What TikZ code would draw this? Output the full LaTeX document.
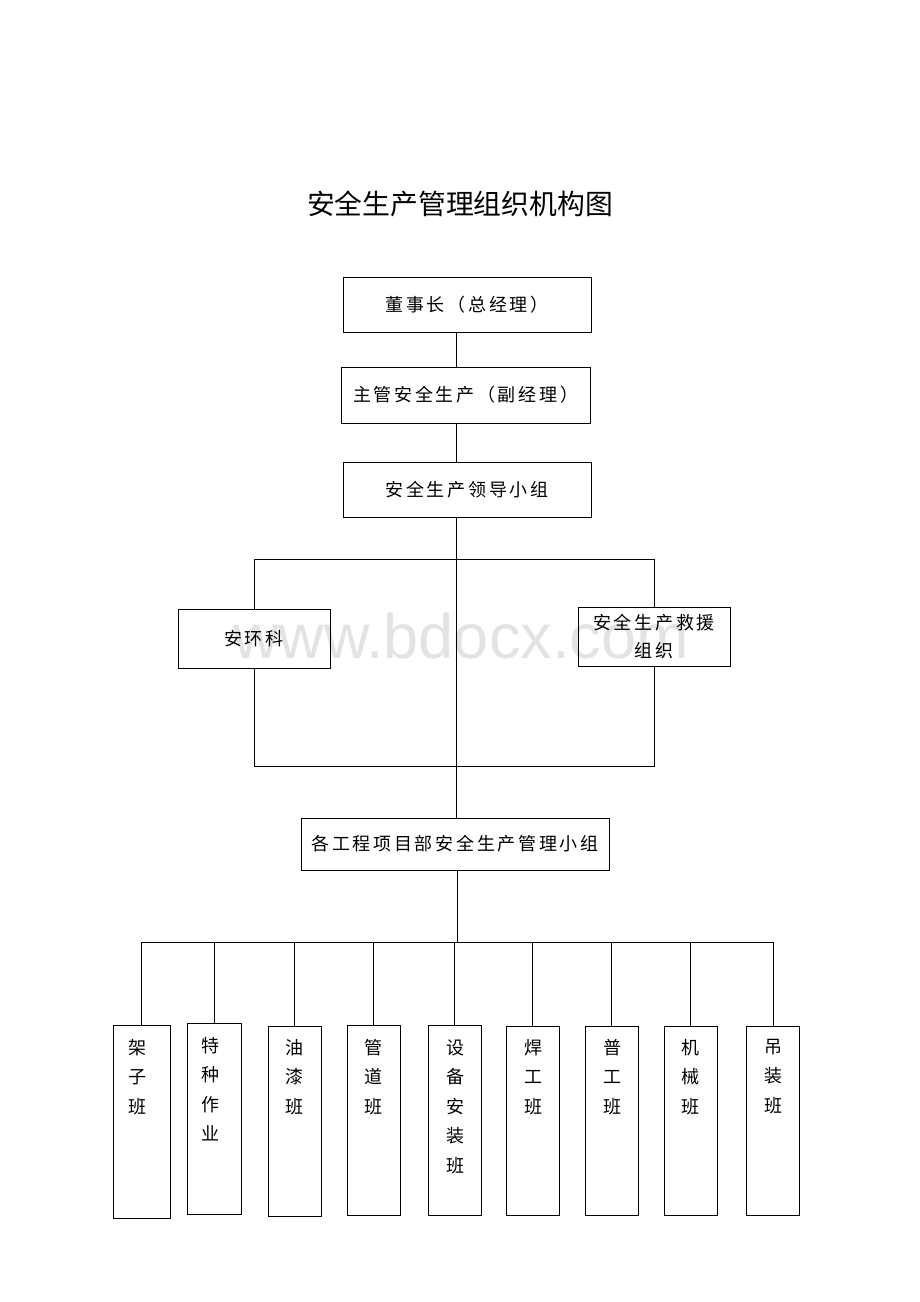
\documentclass[tikz,border=0pt]{standalone}
\usepackage{fontspec}
\newfontfamily\cjk[LetterSpace=15]{Noto Sans CJK SC}
\newfontfamily\cjktitle{Noto Sans CJK SC}
\setsansfont{Liberation Sans}
\begin{document}
\begin{tikzpicture}[x=1pt,y=-1pt,
  box/.style={draw,line width=0.9pt,inner sep=0pt,font=\fontsize{18}{28}\selectfont\cjk,align=center},
  vbox/.style={draw,line width=0.9pt,inner sep=0pt,minimum width=53pt,minimum height=190pt},
  vtext/.style={inner sep=0pt,anchor=north,align=center,font=\fontsize{18}{29.5}\selectfont\cjktitle},
  conn/.style={line width=0.9pt}]
\useasboundingbox (0,0) rectangle (920,1302);
\node[text=black!11,font=\fontsize{63}{63}\selectfont\sffamily] (wm) at (461,636) {www.bdocx.com};
\node[font=\fontsize{27.8}{28}\selectfont\cjktitle] (title) at (460,204) {安全生产管理组织机构图};
\coordinate (sp) at (456,0);
\node[box,minimum width=248pt,minimum height=55pt] (t1) at (467,304.5) {董事长（总经理）};
\node[box,minimum width=249pt,minimum height=56pt] (t2) at (465.5,395) {主管安全生产（副经理）};
\node[box,minimum width=248pt,minimum height=55pt] (t3) at (467,489.5) {安全生产领导小组};
\node[box,minimum width=152pt,minimum height=59pt] (ahk) at (254,638.5) {安环科};
\node[box,minimum width=152pt,minimum height=59pt] (jy) at (654,636.5) {\raisebox{-2pt}{安全生产救援}\\\raisebox{-2pt}{组织}};
\node[box,minimum width=308pt,minimum height=52pt] (xm) at (455,844) {各工程项目部安全生产管理小组};
\draw[conn] (t1.south -| sp) -- (t2.north -| sp);
\draw[conn] (t2.south -| sp) -- (t3.north -| sp);
\draw[conn] (t3.south -| sp) -- (xm.north -| sp);
\draw[conn] (ahk.north) -- ++(0,-49) -| (jy.north);
\draw[conn] (ahk.south) -- ++(0,98) -| (jy.south);
% bottom row
\node[vbox,minimum width=57pt,minimum height=193pt] (k1) at (141.5,1121.5) {};
\node[vbox,minimum width=54pt,minimum height=191pt] (k2) at (214,1118.5) {};
\node[vbox] (k3) at (294.5,1121) {};
\node[vbox] (k4) at (373.5,1120) {};
\node[vbox] (k5) at (454.5,1120) {};
\node[vbox,minimum height=189pt] (k6) at (532.5,1120.5) {};
\node[vbox,minimum height=189pt] (k7) at (611.5,1120.5) {};
\node[vbox,minimum height=189pt] (k8) at (690.5,1120.5) {};
\node[vbox,minimum height=189pt] (k9) at (773,1120.5) {};
\node[vtext] (l1) at (137,1039) {架\\子\\班};
\node[vtext] (l2) at (210,1037) {特\\种\\作\\业};
\node[vtext] (l3) at (294,1039) {油\\漆\\班};
\node[vtext] (l4) at (373,1039) {管\\道\\班};
\node[vtext] (l5) at (455,1039) {设\\备\\安\\装\\班};
\node[vtext] (l6) at (533,1039) {焊\\工\\班};
\node[vtext] (l7) at (612,1039) {普\\工\\班};
\node[vtext] (l8) at (690,1039) {机\\械\\班};
\node[vtext] (l9) at (773,1039) {吊\\装\\班};
\coordinate (bus) at (457,942);
\draw[conn] (xm.south -| bus) -- (bus);
\draw[conn] (k1.north) |- (bus) -| (k9.north);
\foreach \i in {2,...,8} \draw[conn] (k\i.north) -- (k\i.north |- bus);
\end{tikzpicture}
\end{document}
